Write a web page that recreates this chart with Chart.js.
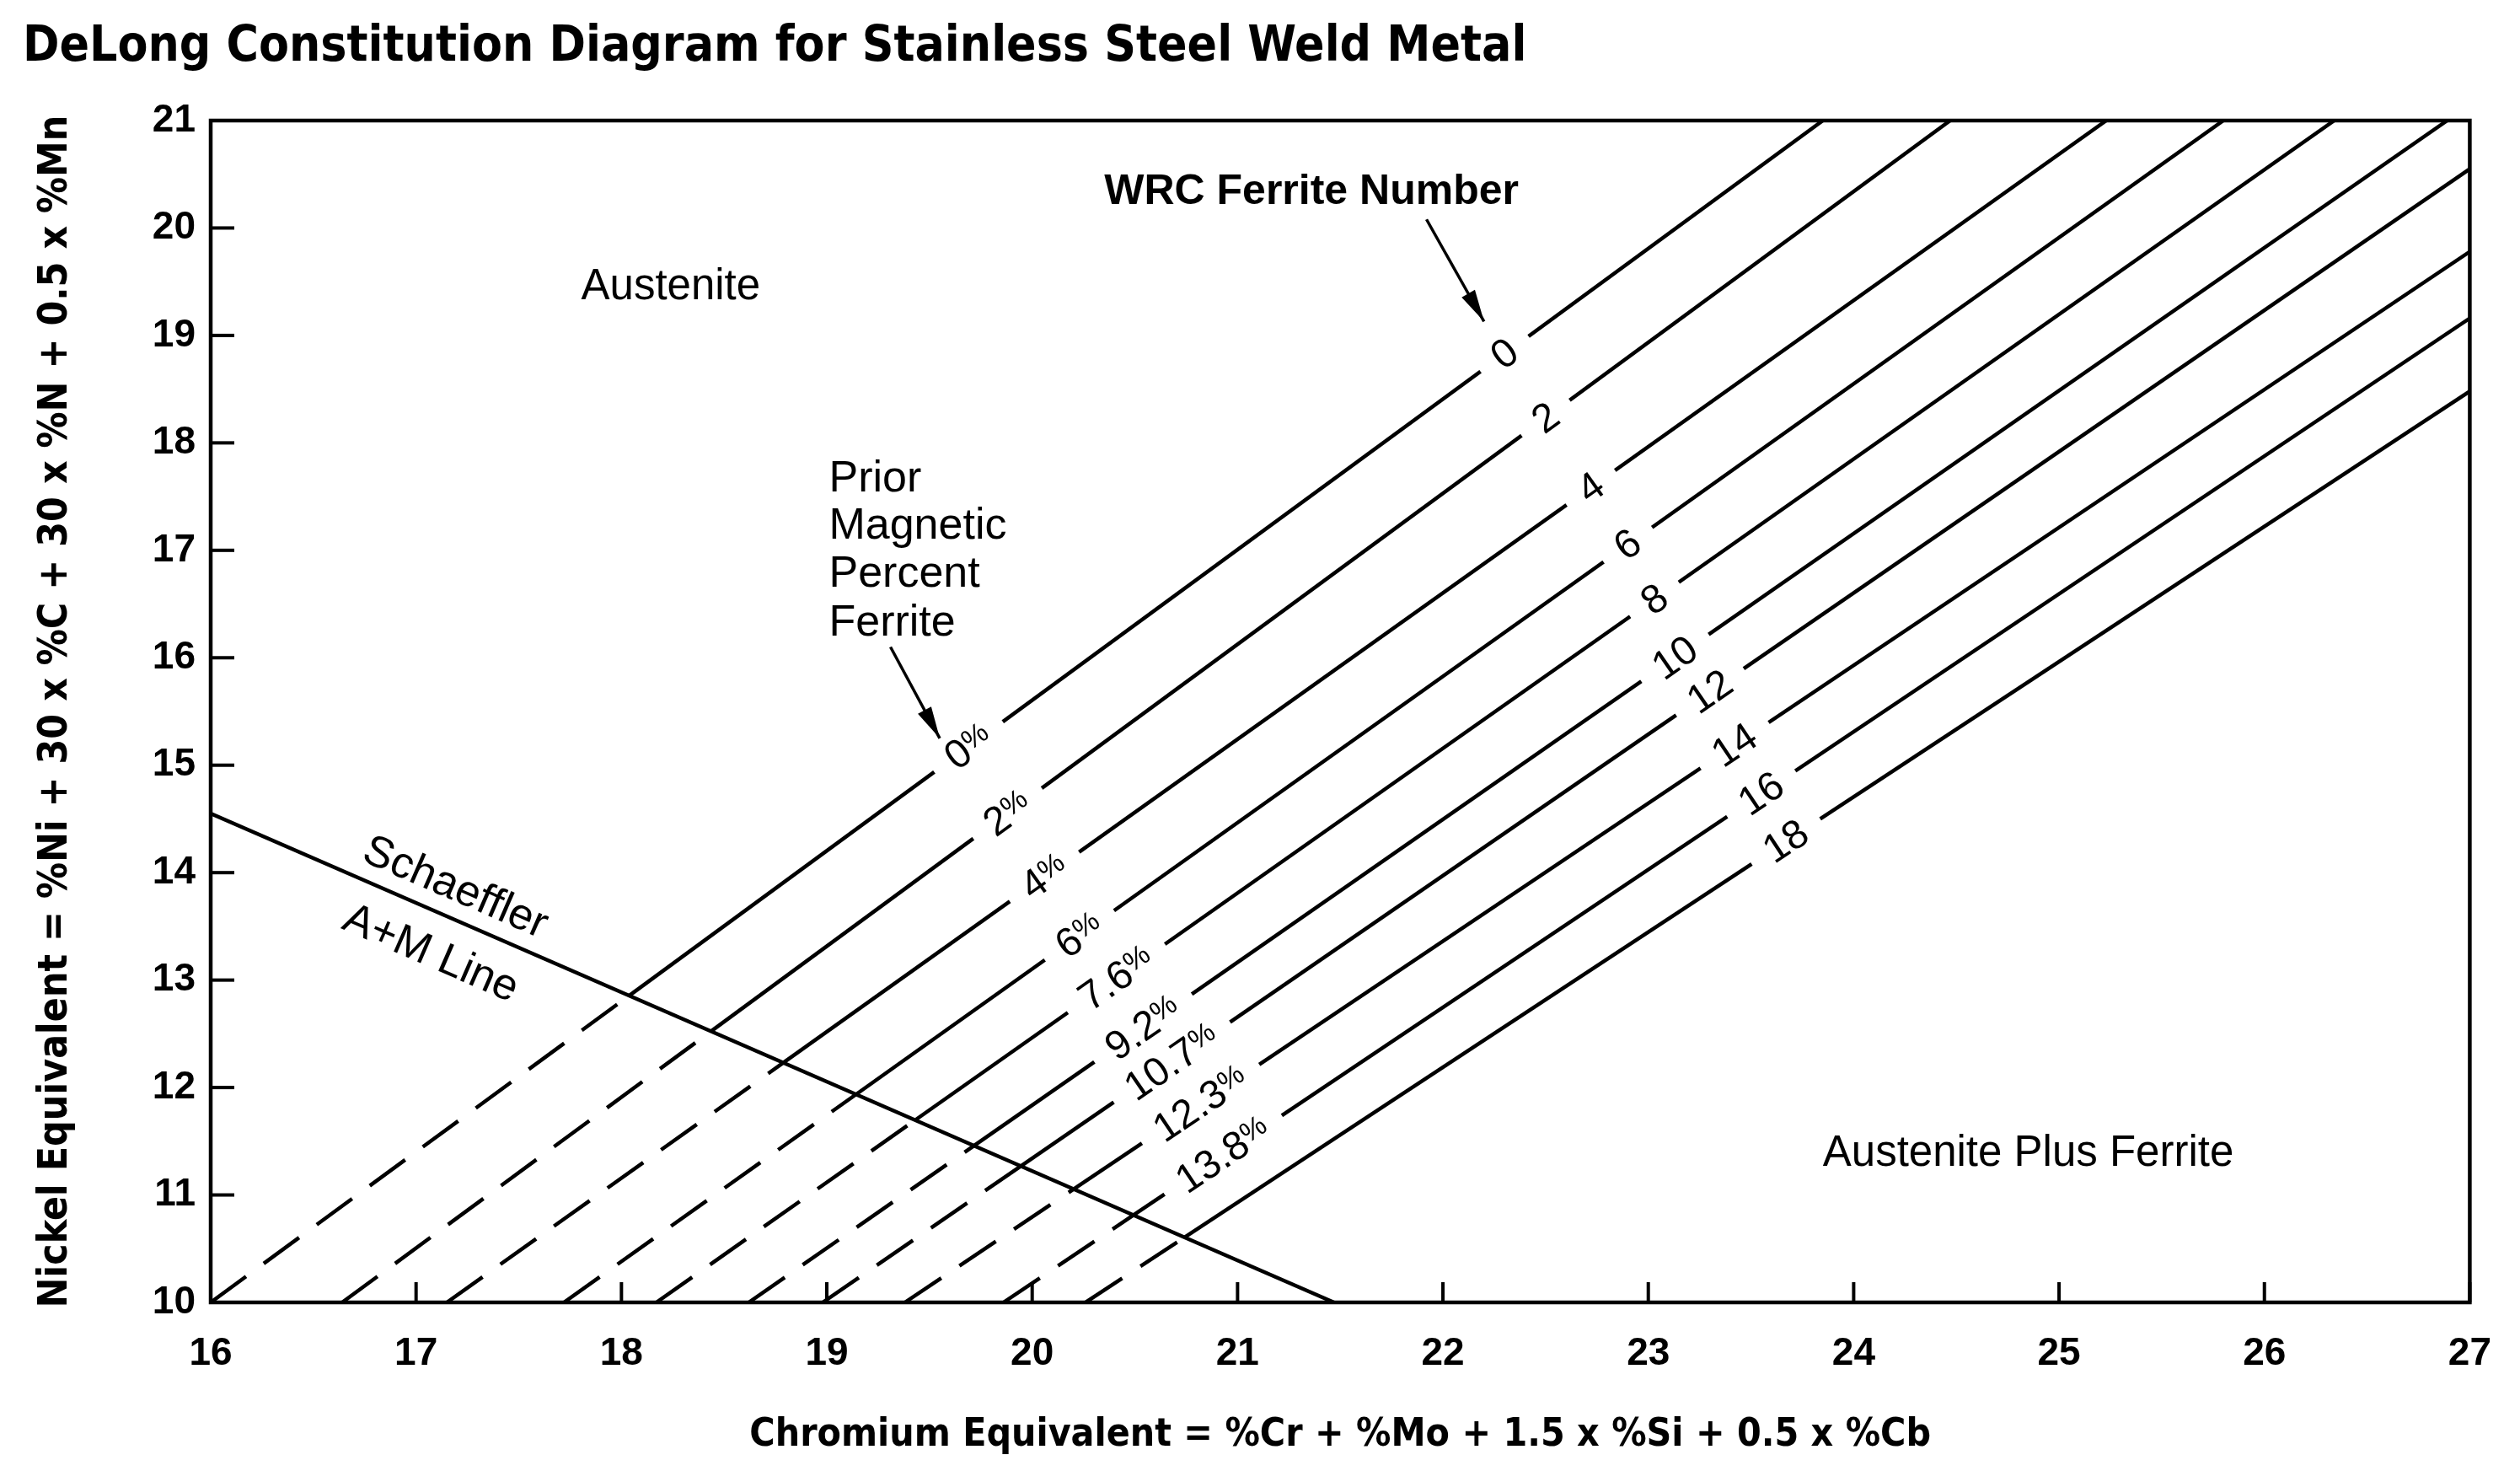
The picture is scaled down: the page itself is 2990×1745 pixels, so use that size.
<!DOCTYPE html>
<html lang="en">
<head>
<meta charset="utf-8">
<title>DeLong Constitution Diagram for Stainless Steel Weld Metal</title>
<script src="https://cdn.jsdelivr.net/npm/chart.js@4.4.1/dist/chart.umd.min.js"></script>
<style>
    html, body { margin: 0; padding: 0; background: #ffffff; }
    .chart-box { position: relative; width: 2990px; height: 1745px; }
</style>
</head>
<body>
<div class="chart-box"><canvas id="delongChart"></canvas></div>
<script>
// --- values ---------------------------------------------------------------
const chromiumTicks = [16, 17, 18, 19, 20, 21, 22, 23, 24, 25, 26, 27];
const nickelTicks = [10, 11, 12, 13, 14, 15, 16, 17, 18, 19, 20, 21];

// WRC ferrite number lines: start on Ni eq = 10, end on the top or right edge
const ferriteNumbers = ['0', '2', '4', '6', '8', '10', '12', '14', '16', '18'];
const magneticPercents = ['0%', '2%', '4%', '6%', '7.6%', '9.2%', '10.7%', '12.3%', '13.8%'];
const lineStartCr = [16.0, 16.64, 17.15, 17.72, 18.17, 18.62, 18.98, 19.38, 19.86, 20.26];
const lineStartNi = [10, 10, 10, 10, 10, 10, 10, 10, 10, 10];
const lineEndCr = [23.85, 24.47, 25.23, 25.80, 26.34, 26.89, 27, 27, 27, 27];
const lineEndNi = [21, 21, 21, 21, 21, 21, 20.55, 19.78, 19.16, 18.48];
// where the labels sit along each line (Cr eq)
const fnLabelCr = [22.30, 22.50, 22.72, 22.90, 23.03, 23.13, 23.30, 23.42, 23.55, 23.67];
const pctLabelCr = [19.69, 19.88, 20.06, 20.23, 20.41, 20.54, 20.68, 20.82, 20.93];

// Schaeffler A+M line
const schaefflerCr = [16, 21.47];
const schaefflerNi = [14.55, 10];

// free text in the plot (data coordinates)
const regionText = ['Austenite', 'Austenite Plus Ferrite'];
const regionCr = [18.24, 24.85];
const regionNi = [19.45, 11.38];
const priorText = ['Prior', 'Magnetic', 'Percent', 'Ferrite'];
const priorCr = 19.01;
const priorNi = [17.66, 17.22, 16.77, 16.32];
const wrcText = 'WRC Ferrite Number';
const wrcCr = 21.36, wrcNi = 20.33;
const arrowFromCr = [21.92, 19.31], arrowFromNi = [20.08, 16.10];
const arrowToCr = [22.20, 19.55], arrowToNi = [19.13, 15.25];
const schaefflerText = ['Schaeffler', 'A+M Line'];
const schaefflerTextCr = [17.19, 17.07];
const schaefflerTextNi = [13.855, 13.24];

const chartTitle = 'DeLong Constitution Diagram for Stainless Steel Weld Metal';
const xTitle = 'Chromium Equivalent = %Cr + %Mo + 1.5 x %Si + 0.5 x %Cb';
const yTitle = 'Nickel Equivalent = %Ni + 30 x %C + 30 x %N + 0.5 x %Mn';

// --- fonts ------------------------------------------------------------------
const probeCtx = document.createElement('canvas').getContext('2d');

function pickFamily(list) {
    for (const fam of list) {
        probeCtx.font = 'bold 40px monospace';
        const w0 = probeCtx.measureText('DeLong Constitution 0123').width;
        probeCtx.font = `bold 40px "${fam}", monospace`;
        const w1 = probeCtx.measureText('DeLong Constitution 0123').width;
        if (w0 !== w1) return `"${fam}"`;
    }
    return '"Liberation Sans"';
}

const narrowFamily = pickFamily(['Liberation Sans Narrow', 'DejaVu Sans Condensed', 'Roboto Condensed']) + ', "Liberation Sans", sans-serif';
const plainFamily = '"Liberation Sans", Arial, sans-serif';

function fitSize(text, family, weight, target) {
    probeCtx.font = `${weight} 100px ${family}`;
    return 100 * target / probeCtx.measureText(text).width;
}

const titleSize = fitSize(chartTitle, narrowFamily, 'bold', 1785);
const xTitleSize = fitSize(xTitle, narrowFamily, 'bold', 1402);
const yTitleSize = fitSize(yTitle, narrowFamily, 'bold', 1415);

// --- helpers ----------------------------------------------------------------
function crossing(i) {
    const x1 = lineStartCr[i], y1 = lineStartNi[i], x2 = lineEndCr[i], y2 = lineEndNi[i];
    const x3 = schaefflerCr[0], y3 = schaefflerNi[0], x4 = schaefflerCr[1], y4 = schaefflerNi[1];
    const d = (x1 - x2) * (y3 - y4) - (y1 - y2) * (x3 - x4);
    const t = ((x1 - x3) * (y3 - y4) - (y1 - y3) * (x3 - x4)) / d;
    return { x: x1 + t * (x2 - x1), y: y1 + t * (y2 - y1) };
}

function niOnLine(i, cr) {
    const k = (lineEndNi[i] - lineStartNi[i]) / (lineEndCr[i] - lineStartCr[i]);
    return lineStartNi[i] + k * (cr - lineStartCr[i]);
}

// label sitting in a gap of a line; a trailing % is set small and raised
function gapLabel(ctx, text, p, angle) {
    const hasPct = text.endsWith('%');
    const num = hasPct ? text.slice(0, -1) : text;
    const numFont = `48px ${plainFamily}`;
    const pctFont = `34px ${plainFamily}`;
    ctx.save();
    ctx.translate(p.x, p.y);
    ctx.rotate(angle);
    ctx.font = numFont;
    const wNum = ctx.measureText(num).width;
    ctx.font = pctFont;
    const wPct = hasPct ? ctx.measureText('%').width : 0;
    const w = wNum + wPct;
    ctx.fillStyle = '#ffffff';
    ctx.fillRect(-w / 2 - 22, -22, w + 44, 44);
    ctx.fillStyle = '#000000';
    ctx.textAlign = 'left';
    ctx.textBaseline = 'middle';
    ctx.font = numFont;
    ctx.fillText(num, -w / 2, 2);
    if (hasPct) {
        ctx.font = pctFont;
        ctx.fillText('%', -w / 2 + wNum, -4);
    }
    ctx.restore();
}

function drawArrow(ctx, a, b) {
    ctx.beginPath();
    ctx.moveTo(a.x, a.y);
    ctx.lineTo(b.x, b.y);
    ctx.lineWidth = 3.5;
    ctx.stroke();
    const ang = Math.atan2(b.y - a.y, b.x - a.x);
    const L = 38, W = 9;
    const c = Math.cos(ang), s = Math.sin(ang);
    ctx.beginPath();
    ctx.moveTo(b.x, b.y);
    ctx.lineTo(b.x - L * c + W * s, b.y - L * s - W * c);
    ctx.lineTo(b.x - L * c - W * s, b.y - L * s + W * c);
    ctx.closePath();
    ctx.fill();
}

// --- datasets -----------------------------------------------------------------
const datasets = ferriteNumbers.map((fn, i) => ({
    label: 'FN ' + fn,
    data: [
        { x: lineStartCr[i], y: lineStartNi[i] },
        crossing(i),
        { x: lineEndCr[i], y: lineEndNi[i] }
    ],
    showLine: true,
    borderColor: '#000000',
    borderWidth: 4.5,
    pointRadius: 0,
    tension: 0,
    segment: {
        // below the Schaeffler line the ferrite lines are dashed
        borderDash: ctx => ctx.p0DataIndex === 0 ? [52, 26] : undefined
    }
}));

datasets.push({
    label: 'Schaeffler A+M Line',
    data: schaefflerCr.map((cr, i) => ({ x: cr, y: schaefflerNi[i] })),
    showLine: true,
    borderColor: '#000000',
    borderWidth: 4.5,
    pointRadius: 0
});

// --- drawing of frame, inward ticks and annotations --------------------------
const delongAnnotations = {
    id: 'delongAnnotations',
    afterDatasetsDraw(chart) {
        const { ctx, chartArea: a, scales: { x, y } } = chart;
        const P = (cr, ni) => ({ x: x.getPixelForValue(cr), y: y.getPixelForValue(ni) });
        ctx.save();
        ctx.strokeStyle = '#000000';
        ctx.fillStyle = '#000000';

        // ticks point into the plot
        ctx.lineWidth = 4;
        x.ticks.forEach(t => {
            const px = x.getPixelForValue(t.value);
            ctx.beginPath();
            ctx.moveTo(px, a.bottom);
            ctx.lineTo(px, a.bottom - 24);
            ctx.stroke();
        });
        y.ticks.forEach(t => {
            const py = y.getPixelForValue(t.value);
            ctx.beginPath();
            ctx.moveTo(a.left, py);
            ctx.lineTo(a.left + 28, py);
            ctx.stroke();
        });

        // frame
        ctx.lineWidth = 4.5;
        ctx.strokeRect(a.left, a.top, a.right - a.left, a.bottom - a.top);

        // labels in gaps of the ferrite lines
        ferriteNumbers.forEach((fn, i) => {
            const p0 = P(lineStartCr[i], lineStartNi[i]);
            const p1 = P(lineEndCr[i], lineEndNi[i]);
            const ang = Math.atan2(p1.y - p0.y, p1.x - p0.x);
            gapLabel(ctx, fn, P(fnLabelCr[i], niOnLine(i, fnLabelCr[i])), ang);
            if (i < magneticPercents.length) {
                gapLabel(ctx, magneticPercents[i], P(pctLabelCr[i], niOnLine(i, pctLabelCr[i])), ang);
            }
        });

        // region names
        ctx.textAlign = 'center';
        ctx.textBaseline = 'middle';
        ctx.font = `51px ${plainFamily}`;
        regionText.forEach((t, i) => {
            const p = P(regionCr[i], regionNi[i]);
            ctx.fillText(t, p.x, p.y);
        });

        ctx.font = `bold 50px ${plainFamily}`;
        const w = P(wrcCr, wrcNi);
        ctx.fillText(wrcText, w.x, w.y);

        ctx.textAlign = 'left';
        ctx.font = `52px ${plainFamily}`;
        priorText.forEach((t, i) => {
            const p = P(priorCr, priorNi[i]);
            ctx.fillText(t, p.x, p.y);
        });

        // arrows
        arrowFromCr.forEach((cr, i) => {
            drawArrow(ctx, P(cr, arrowFromNi[i]), P(arrowToCr[i], arrowToNi[i]));
        });

        // Schaeffler line caption, along the line
        const s0 = P(schaefflerCr[0], schaefflerNi[0]);
        const s1 = P(schaefflerCr[1], schaefflerNi[1]);
        const sAng = Math.atan2(s1.y - s0.y, s1.x - s0.x);
        ctx.textAlign = 'center';
        ctx.font = `52px ${plainFamily}`;
        schaefflerText.forEach((t, i) => {
            const p = P(schaefflerTextCr[i], schaefflerTextNi[i]);
            ctx.save();
            ctx.translate(p.x, p.y);
            ctx.rotate(sAng);
            ctx.fillText(t, 0, 0);
            ctx.restore();
        });

        ctx.restore();
    }
};

const tickFont = { family: plainFamily, size: 46, weight: 'bold' };

new Chart(document.getElementById('delongChart'), {
    type: 'scatter',
    data: { datasets },
    options: {
        responsive: true,
        maintainAspectRatio: false,
        devicePixelRatio: 1,
        animation: false,
        layout: { padding: { left: 27, right: 57, top: 0, bottom: 0 } },
        plugins: {
            legend: { display: false },
            tooltip: { enabled: false },
            title: {
                display: true,
                text: chartTitle,
                align: 'start',
                color: '#000000',
                font: { family: narrowFamily, size: titleSize, weight: 'bold', lineHeight: 1 },
                padding: { top: 57 - titleSize / 2, bottom: 143 - (57 - titleSize / 2) - titleSize }
            }
        },
        scales: {
            x: {
                type: 'linear',
                min: chromiumTicks[0],
                max: chromiumTicks[chromiumTicks.length - 1],
                afterBuildTicks: s => { s.ticks = chromiumTicks.map(v => ({ value: v })); },
                afterFit: s => { s.height = 200; },
                grid: { display: false, drawTicks: false },
                border: { display: false },
                ticks: { color: '#000000', font: tickFont, padding: 34, autoSkip: false, maxRotation: 0 },
                title: {
                    display: true,
                    text: xTitle,
                    color: '#000000',
                    font: { family: narrowFamily, size: xTitleSize, weight: 'bold', lineHeight: 1.2 },
                    padding: { top: 0, bottom: 42 - 0.6 * xTitleSize }
                }
            },
            y: {
                type: 'linear',
                min: nickelTicks[0],
                max: nickelTicks[nickelTicks.length - 1],
                afterBuildTicks: s => { s.ticks = nickelTicks.map(v => ({ value: v })); },
                afterFit: s => { s.width = 223; },
                grid: { display: false, drawTicks: false },
                border: { display: false },
                ticks: { color: '#000000', font: tickFont, padding: 18, autoSkip: false },
                title: {
                    display: true,
                    text: yTitle,
                    color: '#000000',
                    font: { family: narrowFamily, size: yTitleSize, weight: 'bold', lineHeight: 1.2 },
                    padding: { top: 40 - 0.6 * yTitleSize, bottom: 0 }
                }
            }
        }
    },
    plugins: [delongAnnotations]
});
</script>
</body>
</html>
